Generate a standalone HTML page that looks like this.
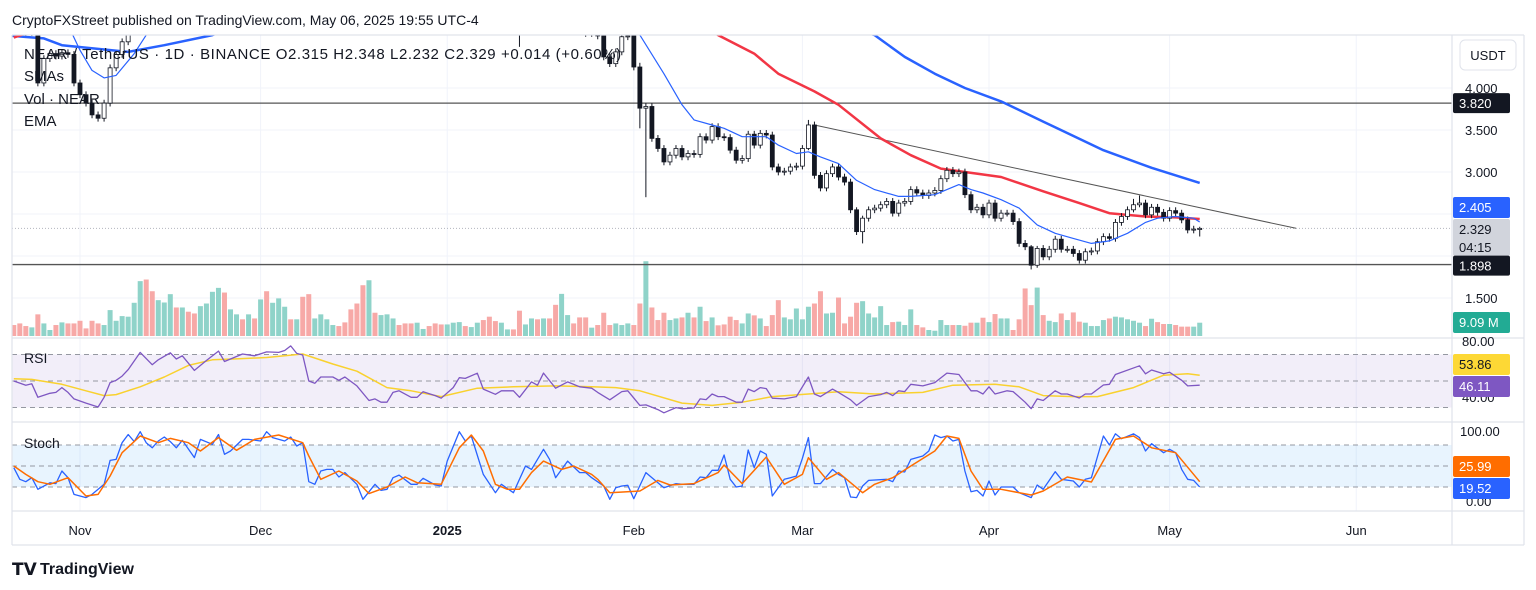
<!DOCTYPE html>
<html><head><meta charset="utf-8"><style>
body{margin:0;background:#fff;}
svg{display:block;font-family:"Liberation Sans",sans-serif;}
</style></head><body>
<svg id="chart" width="1536" height="590" viewBox="0 0 1536 590" xmlns="http://www.w3.org/2000/svg">
<rect x="0" y="0" width="1536" height="590" fill="#ffffff"/>
<text x="12" y="25" font-size="14" fill="#131722">CryptoFXStreet published on TradingView.com, May 06, 2025 19:55 UTC-4</text>
<g id="grid"></g>
<g id="main"></g>
<g id="rsi"></g>
<g id="stoch"></g>
<g id="axes"></g>
<text x="24" y="59" font-size="15" letter-spacing="0.6" fill="#131722">NEAR / TetherUS · 1D · BINANCE  O2.315  H2.348  L2.232  C2.329  +0.014 (+0.60%)</text>
<text x="24" y="81" font-size="15" fill="#131722">SMAs</text>
<text x="24" y="104" font-size="15" fill="#131722">Vol · NEAR</text>
<text x="24" y="126" font-size="15" fill="#131722">EMA</text>
<text x="24" y="363" font-size="14" fill="#131722">RSI</text>
<text x="24" y="448" font-size="14" fill="#131722">Stoch</text>
<rect x="1460" y="40" width="56" height="30" rx="5" fill="#fff" stroke="#e0e3eb"/>
<text x="1488" y="60" font-size="13" fill="#131722" text-anchor="middle">USDT</text>
<g>
<text x="12" y="575" font-size="17" font-weight="bold" fill="#131722">𝗧𝗩</text>
<text x="40" y="574" font-size="16" font-weight="bold" fill="#131722">TradingView</text>
</g>
</svg>
<script>
const closes=[4.72,4.70,4.66,4.68,4.06,4.35,4.41,4.38,4.42,4.40,4.06,
3.92,3.82,3.68,3.64,3.82,4.24,4.40,4.55,4.75,
4.95,5.20,5.05,4.95,5.40,5.60,5.80,5.60,5.90,5.75,5.60,6.10,6.60,6.90,7.10,6.80,7.00,7.20,6.90,7.20,7.00,7.40,7.10,7.40,7.80,8.00,7.60,7.80,7.20,6.60,6.80,7.00,7.10,7.20,6.90,6.50,6.10,5.70,5.40,5.60,5.20,5.35,5.50,5.60,5.40,5.20,5.05,
5.20,5.35,5.20,5.10,5.00,5.15,5.30,5.50,5.30,5.45,5.60,5.40,5.20,5.00,5.10,5.20,4.95,4.75,4.95,5.20,5.00,5.20,5.00,4.80,5.00,5.10,4.90,4.75,4.65,4.70,4.62,
4.37,4.29,4.43,4.61,4.62,4.25,3.76,3.78,3.40,3.28,3.12,3.20,3.28,3.18,3.22,3.21,3.42,3.38,3.54,3.42,3.41,3.26,3.14,3.16,3.45,3.32,3.46,3.44,3.06,3.00,3.01,3.06,3.07,3.28,3.56,2.96,2.81,2.98,3.06,2.94,2.88,2.55,2.29,2.45,2.55,2.57,2.61,2.65,2.51,2.63,2.65,2.79,2.75,2.72,2.75,2.78,2.92,3.02,2.98,3.00,
2.73,2.55,2.58,2.49,2.63,2.45,2.51,2.51,2.41,2.15,2.11,1.89,2.09,1.99,2.08,2.20,2.08,2.08,2.03,1.95,2.05,2.06,2.17,2.23,2.21,2.40,2.47,2.55,2.61,2.63,2.49,2.58,2.52,2.45,2.54,2.51,2.43,2.31,2.32,2.329];
const firstDay=-11;
const firstOpen=4.75;
const lastOpen=2.315;
const wickOverrides={73:[4.80,4.49],93:[4.30,3.52],94:[3.82,2.70],121:[3.62,3.26],129:[2.58,2.25],130:[2.48,2.15],158:[2.13,1.84],159:[2.12,1.86],175:[2.68,2.52],176:[2.72,2.58],186:[2.348,2.232]};
const volumes=[7.5,8.6,6.8,5.9,14.8,8.6,4.1,7.5,9.3,8.6,8.6,10.4,5.2,10.4,8.6,7.5,17.7,10.4,13.6,13.2,22.7,37.5,38.6,30.6,24.5,22.9,28.6,19.5,19.5,16.6,15.4,20.4,22.2,30.2,32.9,29.7,18.2,14.8,11.4,14.8,12.0,25.0,30.6,22.7,25.7,20.0,11.4,11.4,26.8,28.6,12.0,14.8,11.4,7.5,6.8,9.3,18.2,22.2,34.7,38.1,15.9,14.3,14.8,12.0,7.5,8.6,8.6,
9.1,4.8,6.8,8.6,7.9,7.9,9.1,9.5,6.8,6.1,9.1,10.9,13.2,10.2,9.1,4.5,4.5,17.3,7.9,12.0,11.4,12.0,12.0,21.3,28.8,14.3,8.6,
12.7,12.7,5.7,7.5,15.9,7.5,8.6,7.5,8.6,7.5,22.2,51.1,19.5,10.9,15.9,10.9,12.0,12.7,15.9,12.7,20.0,10.2,12.7,7.3,7.9,13.2,10.9,8.6,15.4,14.1,12.0,6.8,14.3,24.5,12.7,11.4,18.8,11.4,20.0,22.2,30.6,15.4,15.9,26.3,8.6,13.2,22.7,23.8,15.4,12.7,20.4,7.5,9.5,9.8,7.5,18.2,7.5,5.9,4.1,3.6,10.9,7.5,7.5,7.5,
7.0,9.1,9.1,12.5,9.5,15.0,12.0,12.0,4.1,11.4,32.5,21.1,33.1,14.3,10.4,9.5,15.4,10.9,16.1,9.8,9.1,6.8,6.8,10.9,12.0,13.2,12.7,11.4,10.4,9.1,6.8,11.8,9.5,8.2,8.2,7.5,6.4,6.4,6.4,9.09];
const emaDays=[-2,0,2,4,6,9,11,20,50,80,90,93,97,100,102,105,107,110,114,116,119,121,123,126,129,132,136,138,142,144,146,148,150,153,156,159,162,165,168,171,174,177,179,182,185,186];
const emaVals=[4.75,4.45,4.21,4.12,4.15,4.41,4.63,5.4,6.5,5.2,4.75,4.63,4.17,3.80,3.62,3.56,3.52,3.42,3.42,3.32,3.22,3.24,3.18,3.10,2.90,2.79,2.71,2.71,2.73,2.79,2.85,2.79,2.75,2.67,2.57,2.37,2.27,2.21,2.15,2.18,2.27,2.40,2.45,2.47,2.45,2.405];
const sma50Days=[-11,-9,0,60,100,106,112,116,122,126,133,138,143,147,153,160,166,171,177,182,186];
const sma50Vals=[4.60,4.65,4.9,6.2,4.9,4.63,4.41,4.17,3.96,3.80,3.40,3.20,3.04,3.00,2.94,2.77,2.63,2.51,2.47,2.46,2.44];
const sma100Days=[-13,-6,-3,8,14,22,40,110,132,137,142,147,153,160,170,178,186];
const sma100Vals=[4.63,4.59,4.51,4.43,4.51,4.63,5.1,5.1,4.63,4.37,4.17,4.00,3.84,3.60,3.26,3.05,2.87];
const trendDays=[122,202];
const trendVals=[3.56,2.33];
const levels=[3.82,1.898];
const priceTicks=[4.0,3.5,3.0,1.5];
const priceTickLabels=["4.000","3.500","3.000","1.500"];
const rsiDays=[-11,-9,-8,-7,-5,-4,-3,-2,-1,1,3,4,5,6,7,8,10,12,13,15,16,17,19,21,23,24,27,29,31,33,34,35,36,37,38,39,40,42,43,44,46,48,49,50,51,52,53,55,56,57,59,60,62,63,64,66,67,69,70,72,73,75,76,77,79,81,83,85,86,88,90,91,93,94,96,97,99,100,102,103,104,105,106,107,109,110,111,112,113,114,115,117,119,121,122,123,125,126,128,129,131,133,134,135,136,137,138,140,142,144,146,148,149,150,151,152,154,155,157,158,159,160,162,163,164,166,167,168,170,171,172,176,177,178,180,181,183,184,186];
const rsiVals=[50,46.8,47.9,37.7,40.7,41.4,45,41.4,36.5,33.3,30.4,37.7,48.8,50.5,53.7,58.6,71.6,62.3,66,71.3,66.6,69,58,65.5,72.6,64.7,70.4,69,72,71.6,73,76.5,70.8,69.6,50,48.3,53,53,50.5,53,46.3,35.3,36.5,34,34,41.4,42.6,37.7,37.7,41.9,39,37,45,52.5,52,55.9,43.9,40,42.6,42.6,37.7,49.3,46.8,56,44.6,49.3,45.6,44.6,41.4,35.8,42,42.6,31.6,32,28.4,26,29.9,29,29.6,36.5,36,40.2,38.2,38.2,34,34,43.9,42,45,44.3,37,36.5,38.2,53,40.2,38.2,43.9,41.4,35.8,31.6,38.2,39.7,41.4,39,42.6,42,47.5,46.3,48.8,56,54.9,42.6,42.6,40.2,45.6,40.2,42.6,42,34,29.1,36.5,35.3,42.6,40.2,40.2,37.2,40.2,40.2,47,47.5,54.9,61.5,55.4,58.3,55.4,56.6,50.5,46.3,46.8];
const rsiMaDays=[-11,-8,-3,1,4,6,10,14,18,22,26,31,37,42,46,51,55,60,66,72,79,85,89,93,100,105,110,115,121,126,132,140,145,152,156,160,165,169,175,180,184,186];
const rsiMaVals=[51.7,51.2,47.5,42.6,39,39.7,45.6,53,61.8,66,66.7,67.7,70.4,62.8,57.4,45,42.6,38.2,44.6,45.6,46.3,45.6,45,42.6,33.3,31.6,34,38.2,40.2,41.9,40.2,41.4,46.8,47.5,45.6,39,38.2,38.2,45,54.4,55.4,54.4];
const kDays=[-11,-10,-9,-8,-7,-5,-4,-3,-2,-1,1,2,4,5,6,7,8,9,10,11,12,13,14,15,16,17,19,20,22,23,24,25,27,28,30,31,32,34,35,36,37,38,39,40,41,42,43,44,46,47,49,50,51,52,53,55,56,57,59,60,61,63,64,65,67,69,70,72,74,75,77,78,79,81,83,84,85,87,88,89,90,91,92,94,96,97,99,100,102,103,104,105,106,107,108,109,110,111,112,113,114,115,117,118,119,120,121,122,123,125,126,127,128,129,130,131,134,135,136,137,138,140,141,142,143,144,145,146,147,148,149,150,151,152,153,155,156,158,159,160,162,163,165,166,167,168,170,171,172,173,175,176,177,178,180,181,182,183,184,185,186];
const kVals=[47.6,31,27.6,33.3,16.7,26,24.8,42.9,33.3,9.5,4.8,9.5,23.8,58,59.5,83.3,95,84.8,99,83.3,76,85.7,91.4,84.8,76,86.7,62,88,81,95,66.7,71.4,88,88,85.7,99,90.5,85.7,91.4,78.6,83.3,27.6,23.8,42.9,45.2,45.2,34.3,40.5,23.8,2.4,23.8,15.2,16.7,33.3,37,23.8,23.8,32.4,22.9,21.4,57,99,85.7,92.9,38,11.9,23.8,11.9,50,45.2,73.8,59.5,33.3,57,40.5,40.5,33.3,21.4,2.4,19,21.4,22.4,3.3,40.5,26.2,19,24.8,23.8,23.8,34.3,33.3,43.8,43.8,65.7,31,20,21.4,72.9,47.6,71.4,66.7,7.1,31,33.3,35.7,61,90.5,24.8,24.8,45.2,38,33.3,5.7,4.8,21.4,29.5,31,27.6,42.9,41.4,59.5,64.3,71.4,94.3,90.5,92.9,85.7,88,42.9,13.3,15.2,7.1,28.6,8.6,20,20,11.9,4.8,22.9,16.7,41.9,31,28.6,20,31,33.3,92.9,80,96,89,96,90.5,71.4,81.9,69,73.8,69,45.2,31,29.5,20];
const dDays=[-11,-9,-7,-5,-2,1,3,5,7,10,13,15,18,20,23,26,29,33,37,38,40,43,44,46,48,51,54,56,60,63,65,67,69,71,73,75,77,80,82,85,86,88,93,96,98,102,106,107,110,114,117,120,121,124,126,130,132,135,138,142,144,146,148,150,153,158,160,164,168,172,175,178,182,186];
const dVals=[50,38,27.6,23.8,33.3,7.1,9.5,35.7,69,92.9,83.3,89.5,83.3,71.4,90.5,72.4,88,94.3,83.3,64.3,31,42.9,38,28.6,10.5,20,34.3,26.2,23.8,76,94.3,71.4,23.8,16.7,16.7,40.5,57,45.2,50,38,31,11.9,14.3,29.5,22.9,24.8,40.5,51.4,24.8,62.9,23.8,38,61.9,31,40.5,11.9,23.8,33.3,50,71.4,92.9,89.5,42.9,16.7,16.7,8.6,14.3,34.3,27.1,88,92.9,76,69,27.6];
const monthDays=[0,30,61,92,120,151,181,212];
const monthLabels=["Nov","Dec","2025","Feb","Mar","Apr","May","Jun"];

const NS="http://www.w3.org/2000/svg";
const L=12,R=1452;
const xOf=d=>80+d*6.02;
const yP=p=>88+(4-p)*84;
const yR=v=>381-(v-50)*1.325;
const yS=v=>466-(v-50)*0.7;
const volScale=13.3/9.09;
function mk(tag,attrs,parent){const e=document.createElementNS(NS,tag);for(const k in attrs)e.setAttribute(k,attrs[k]);parent.appendChild(e);return e;}
const svg=document.getElementById('chart');
const defs=mk('defs',{},svg);
const c1=mk('clipPath',{id:'clipMain'},defs);mk('rect',{x:L,y:35,width:R-L,height:302},c1);
const c2=mk('clipPath',{id:'clipRsi'},defs);mk('rect',{x:L,y:339,width:R-L,height:82},c2);
const c3=mk('clipPath',{id:'clipSt'},defs);mk('rect',{x:L,y:423,width:R-L,height:87},c3);
const grid=document.getElementById('grid');
const main=document.getElementById('main');main.setAttribute('clip-path','url(#clipMain)');
const rsi=document.getElementById('rsi');rsi.setAttribute('clip-path','url(#clipRsi)');
const st=document.getElementById('stoch');st.setAttribute('clip-path','url(#clipSt)');
const axes=document.getElementById('axes');

monthDays.forEach((d,i)=>{
 const g=mk('line',{x1:xOf(d),x2:xOf(d),y1:35,y2:511,stroke:'#f0f3fa','stroke-width':1},grid);
 
 
});
priceTicks.forEach(p=>{
 const g=mk('line',{x1:L,x2:R,y1:yP(p),y2:yP(p),stroke:'#f0f3fa'},grid);
 
 
});
[2.5,2.0].forEach(p=>{const g=mk('line',{x1:L,x2:R,y1:yP(p),y2:yP(p),stroke:'#f0f3fa'},grid);
 
 });

for(let i=0;i<closes.length;i++){
 const d=firstDay+i;
 const o=i===0?firstOpen:(i===closes.length-1?lastOpen:closes[i-1]);
 const up=closes[i]>=o;
 const h=volumes[i]*volScale;
 const b=mk('rect',{x:xOf(d)-2.5,y:336-h,width:5,height:h,fill:up?'#8fd3c9':'#f7a9a7'},main);
 
 
}
levels.forEach(p=>{
 const l=mk('line',{x1:L,x2:R,y1:yP(p),y2:yP(p),stroke:'#555','stroke-width':1.3},main);
 
 
});
const cur=mk('line',{x1:L,x2:R,y1:yP(closes[closes.length-1]),y2:yP(closes[closes.length-1]),stroke:'#b2b5be','stroke-dasharray':'1 2'},main);


function poly(days,vals,yf,color,w,parent,name){
 const pts=days.map((d,i)=>xOf(d).toFixed(1)+','+yf(vals[i]).toFixed(1)).join(' ');
 const p=mk('polyline',{points:pts,fill:'none',stroke:color,'stroke-width':w,'stroke-linejoin':'round'},parent);
 
 
}
poly(trendDays,trendVals,yP,'#555',1,main,'trend-line');
poly(sma100Days,sma100Vals,yP,'#2962ff',2.5,main,'sma-100-line');
poly(sma50Days,sma50Vals,yP,'#f23645',2.5,main,'sma-50-line');
for(let i=0;i<closes.length;i++){
 const d=firstDay+i;
 const o=i===0?firstOpen:(i===closes.length-1?lastOpen:closes[i-1]);
 const c=closes[i];
 let hi=Math.max(o,c)+0.04, lo=Math.min(o,c)-0.04;
 if(wickOverrides[d]){hi=wickOverrides[d][0];lo=wickOverrides[d][1];}
 const x=xOf(d);
 const w=mk('line',{x1:x,x2:x,y1:yP(hi),y2:yP(lo),stroke:'#131722','stroke-width':1},main);
 
 
 const top=yP(Math.max(o,c)),bh=Math.max(1,yP(Math.min(o,c))-top);
 const b=mk('rect',{x:x-2,y:top,width:4,height:bh,fill:c>=o?'#ffffff':'#131722',stroke:'#131722','stroke-width':0.8},main);
 
 
}
poly(emaDays,emaVals,yP,'#2962ff',1.2,main,'ema-20-line');

const rb=mk('rect',{x:L,y:yR(70),width:R-L,height:yR(30)-yR(70),fill:'#7e57c2','fill-opacity':0.1},rsi);


[70,50,30].forEach(v=>{const l=mk('line',{x1:L,x2:R,y1:yR(v),y2:yR(v),stroke:'#9598a1','stroke-dasharray':'5 4'},rsi);
 
 });
poly(rsiMaDays,rsiMaVals,yR,'#f9d12e',1.5,rsi,'rsi-ma-line');
poly(rsiDays,rsiVals,yR,'#7e57c2',1.3,rsi,'rsi-line');
const sb=mk('rect',{x:L,y:yS(80),width:R-L,height:yS(20)-yS(80),fill:'#2196f3','fill-opacity':0.1},st);


[80,50,20].forEach(v=>{const l=mk('line',{x1:L,x2:R,y1:yS(v),y2:yS(v),stroke:'#9598a1','stroke-dasharray':'5 4'},st);
 
 });
poly(kDays,kVals,yS,'#2962ff',1.3,st,'stoch-k-line');
poly(dDays,dVals,yS,'#ff6d00',1.5,st,'stoch-d-line');

[[L,338,1524,338],[L,422,1524,422],[L,511,1524,511],[R,35,R,545],[L,35,L,545],[L,545,1524,545],[1524,35,1524,545],[L,35,1524,35]].forEach(a=>{
 const l=mk('line',{x1:a[0],y1:a[1],x2:a[2],y2:a[3],stroke:'#e0e3eb','stroke-width':1.2},axes);
 
 
});
priceTicks.forEach((p,i)=>{
 const t=mk('text',{x:1465,y:yP(p)+5,'font-size':13,fill:'#131722'},axes);t.textContent=priceTickLabels[i];
 
 
});
function tag(y1,h,bg,fg,txt,name,txt2){
 const r=mk('rect',{x:1453,y:y1,width:57,height:h,fill:bg,rx:2},axes);
 
 
 const t=mk('text',{x:1459,y:y1+15,'font-size':13,fill:fg},axes);t.textContent=txt;
 
 
 if(txt2){const t2=mk('text',{x:1459,y:y1+33,'font-size':13,fill:fg},axes);t2.textContent=txt2;
 
 }
}
tag(yP(3.82)-10,20,'#131722','#fff','3.820','level-label-3820');
tag(197,21,'#2962ff','#fff','2.405','ema-value-label');
tag(219,37,'#d1d4dc','#131722','2.329','current-price-label','04:15');
tag(yP(1.898)-9,20,'#131722','#fff','1.898','level-label-1898');
tag(312,21,'#22ab94','#fff','9.09 M','volume-value-label');
const r80=mk('text',{x:1462,y:346,'font-size':13,fill:'#131722'},axes);r80.textContent='80.00';


const r40=mk('text',{x:1462,y:402,'font-size':13,fill:'#131722'},axes);r40.textContent='40.00';


tag(354,21,'#fdd835','#131722','53.86','rsi-ma-value-label');
tag(376,21,'#7e57c2','#fff','46.11','rsi-value-label');
const s100=mk('text',{x:1460,y:436,'font-size':13,fill:'#131722'},axes);s100.textContent='100.00';


const s0=mk('text',{x:1466,y:506,'font-size':13,fill:'#131722'},axes);s0.textContent='0.00';


tag(456,21,'#ff6d00','#fff','25.99','stoch-d-value-label');
tag(478,21,'#2962ff','#fff','19.52','stoch-k-value-label');
monthDays.forEach((d,i)=>{
 const t=mk('text',{x:xOf(d),y:535,'font-size':13,fill:'#131722','text-anchor':'middle','font-weight':monthLabels[i]==='2025'?'bold':'normal'},axes);
 t.textContent=monthLabels[i];
 
 
});
</script>
</body></html>
